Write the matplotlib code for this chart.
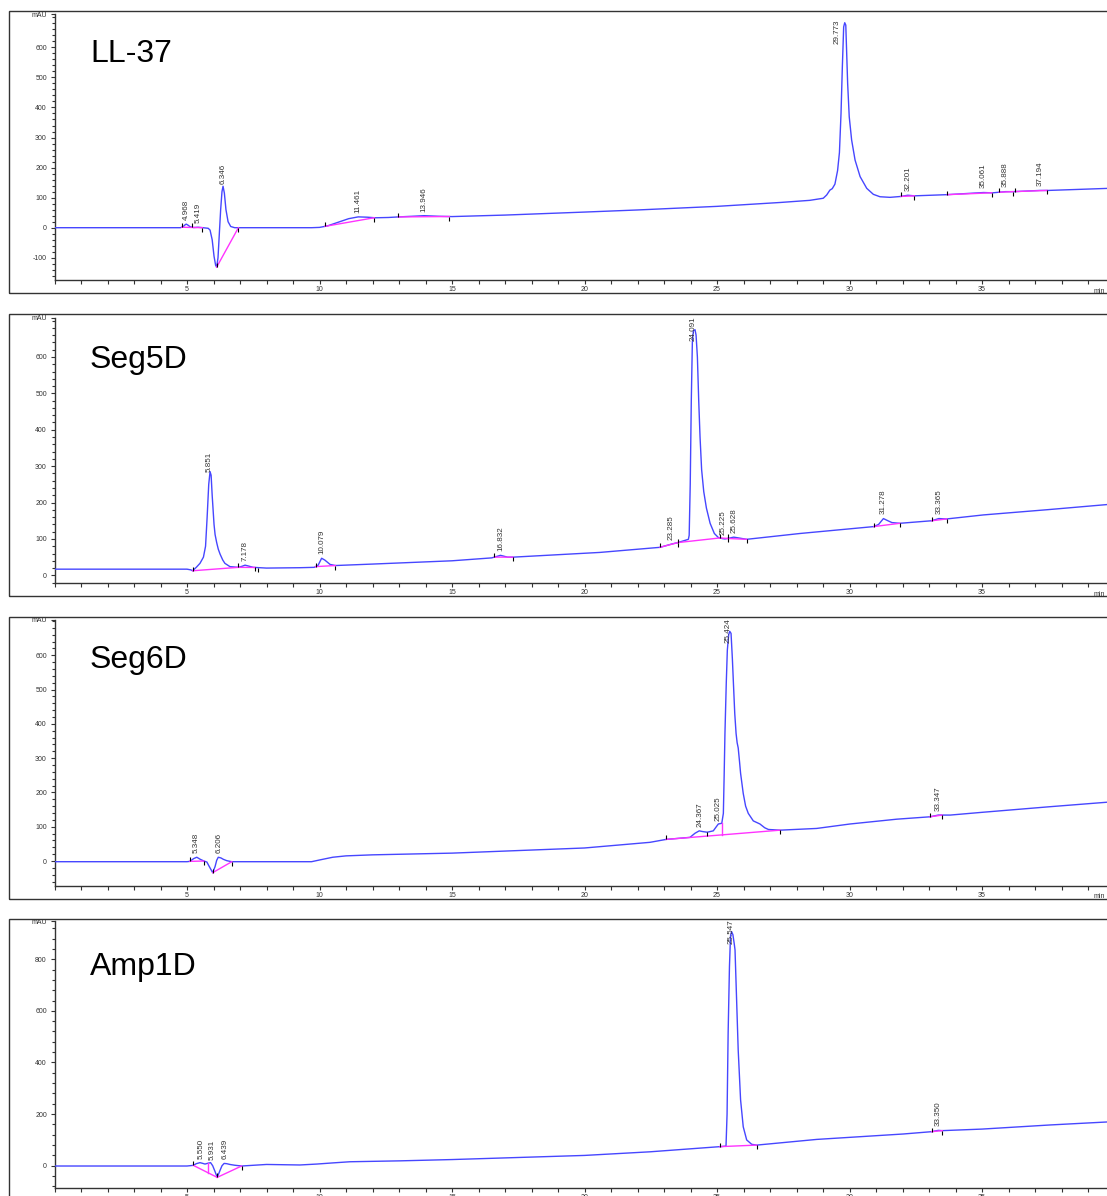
import numpy as np
import matplotlib
matplotlib.use('Agg')
import matplotlib.pyplot as plt
from matplotlib.patches import Rectangle
from matplotlib.ticker import MultipleLocator, FixedLocator, FixedFormatter

plt.rcParams['font.family'] = ['Liberation Sans', 'DejaVu Sans']

# ---------------- data ----------------
names = ['LL-37', 'Seg5D', 'Seg6D', 'Amp1D']

# LL-37
ll37_t = [0, 4.75, 4.85, 4.92, 4.97, 5.03, 5.12, 5.25, 5.42, 5.6, 5.8, 5.87, 5.95, 6.02, 6.08,
          6.12, 6.17, 6.22, 6.27, 6.32, 6.36, 6.41, 6.47, 6.55, 6.65, 6.8, 9.7, 10.0, 10.3, 10.7,
          11.1, 11.46, 11.8, 12.1, 12.6, 13.0, 13.5, 13.95, 14.5, 15.0, 17.0, 20.0, 22.0, 25.0,
          27.4, 28.5, 29.01, 29.14, 29.26, 29.35, 29.45, 29.55, 29.62, 29.68, 29.73, 29.78, 29.82,
          29.86, 29.89, 29.93, 29.99, 30.08, 30.21, 30.40, 30.65, 30.90, 31.15, 31.53, 31.94,
          32.2, 32.45, 33.7, 35.06, 35.4, 35.89, 36.2, 37.19, 37.5, 38.5, 39.8]
ll37_v = [0, 0, 3, 9, 12, 9, 3, 0.5, 1.5, 0, -2, -8, -40, -95, -125,
          -131, -100, -20, 60, 120, 138, 115, 60, 20, 4, 0, 0, 1, 6, 18,
          30, 36, 35, 33, 34, 36, 38, 40, 38, 37, 42, 52, 59, 71,
          84, 91, 98, 109, 125, 130, 145, 190, 250, 380, 535, 668, 682,
          674, 591, 480, 369, 292, 225, 170, 131, 111, 103, 101, 104,
          108, 106, 110, 117, 116, 120, 120, 124, 124, 127, 131]
ll37_baselines = [(4.80, 5.58), (6.12, 6.94), (10.21, 12.07), (12.97, 14.9), (31.94, 32.45),
                  (33.69, 35.37), (35.65, 36.18), (36.26, 37.46)]
ll37_drops = []
ll37_starts = [4.80, 5.20, 6.12, 10.21, 12.97, 31.94, 33.69, 35.65, 36.26]
ll37_ends = [5.58, 6.94, 12.07, 14.9, 32.45, 35.37, 36.18, 37.46]
ll37_labels = ['4.968', '5.419', '6.346', '11.461', '13.946', '29.773', '32.201', '35.061',
               '35.888', '37.194']

# Seg5D
seg5_t = [0, 5.0, 5.15, 5.21, 5.35, 5.49, 5.62, 5.7, 5.76, 5.82, 5.87, 5.91, 5.95, 6.02, 6.06,
          6.12, 6.18, 6.25, 6.35, 6.43, 6.62, 6.94, 7.08, 7.19, 7.3, 7.5, 8.0, 9.26, 9.8, 9.95,
          10.08, 10.2, 10.4, 10.6, 12.0, 15.0, 16.5, 16.83, 17.1, 17.3, 20.58, 22.85, 23.29,
          23.52, 23.92, 23.95, 23.99, 24.03, 24.07, 24.11, 24.17, 24.21, 24.26, 24.31, 24.36,
          24.42, 24.5, 24.6, 24.74, 24.9, 25.05, 25.2, 25.3, 25.45, 25.63, 25.8, 26.12, 28.13,
          30.92, 31.1, 31.28, 31.45, 31.6, 31.9, 33.1, 33.37, 33.67, 35.05, 37.57, 39.8]
seg5_v = [17, 17, 15, 12.6, 22, 33, 50, 80, 160, 250, 285, 275, 220, 140, 112,
          90, 72, 58, 42, 33, 24, 22, 25, 28, 26, 22, 20, 21, 22, 28,
          47, 42, 30, 27, 31, 40, 48, 55, 50, 50, 63, 77, 86,
          90, 99, 110, 250, 480, 640, 672, 675, 660, 600, 480, 380,
          290, 230, 185, 143, 115, 104, 101, 100, 102, 105, 103, 99, 115,
          134, 140, 156, 150, 145, 143, 150, 156, 155, 166, 181, 195]
seg5_baselines = [(5.21, 6.94), (6.94, 7.57), (9.85, 10.6), (16.6, 17.3), (22.85, 23.52),
                  (23.52, 25.11), (25.11, 25.4), (25.4, 26.12), (30.92, 31.9), (33.1, 33.67)]
seg5_drops = []
seg5_starts = [5.21, 6.94, 9.85, 16.6, 22.85, 23.52, 25.11, 25.4, 30.92, 33.1]
seg5_ends = [7.57, 7.68, 10.6, 17.3, 23.52, 25.4, 26.12, 31.9, 33.67]
seg5_labels = ['5.851', '7.178', '10.079', '16.832', '23.285', '24.091', '25.225', '25.628',
               '31.278', '33.365']

# Seg6D
seg6_t = [0, 5.0, 5.11, 5.25, 5.37, 5.5, 5.64, 5.75, 5.84, 5.97, 6.06, 6.12, 6.18, 6.28, 6.37,
          6.5, 6.69, 9.7, 10.0, 10.5, 11.0, 12.0, 15.0, 20.0, 22.47, 23.08, 23.98, 24.17, 24.33,
          24.45, 24.63, 24.86, 25.05, 25.18, 25.24, 25.27, 25.3, 25.35, 25.39, 25.44, 25.48,
          25.53, 25.58, 25.62, 25.67, 25.72, 25.76, 25.8, 25.85, 25.89, 25.99, 26.08, 26.18,
          26.37, 26.62, 26.8, 26.94, 27.38, 28.76, 30.02, 31.28, 31.78, 33.04, 33.35, 33.8,
          35.0, 37.5, 39.8]
seg6_v = [-2, -2, -1, 7, 11, 5, 0, -3, -16, -34, -16, 2, 11, 9, 5,
          1, -2, -2, 3, 11, 15, 18, 23, 38, 54.5, 63, 69, 81, 88,
          86, 84, 88, 108, 110, 139, 250, 372, 520, 615, 660, 670,
          664, 590, 518, 430, 372, 345, 330, 290, 256, 197, 160, 139,
          117, 108, 97, 92, 90, 95, 108, 118, 122, 129, 134, 134,
          142, 158, 172]
seg6_baselines = [(5.11, 5.64), (5.97, 6.69), (23.08, 27.38), (33.04, 33.5)]
seg6_drops = [25.18]
seg6_starts = [5.11, 5.97, 23.08, 33.04]
seg6_ends = [5.64, 6.69, 24.63, 27.38, 33.5]
seg6_labels = ['5.348', '6.206', '24.367', '25.025', '25.424', '33.347']

# Amp1D
amp1_t = [0, 5.0, 5.24, 5.35, 5.49, 5.6, 5.68, 5.8, 5.89, 5.97, 6.06, 6.14, 6.2, 6.25, 6.32,
          6.4, 6.5, 6.62, 6.8, 7.06, 8.0, 9.26, 9.9, 10.5, 11.15, 13.04, 15.0, 20.0, 22.47,
          25.11, 25.34, 25.38, 25.42, 25.47, 25.51, 25.55, 25.6, 25.65, 25.68, 25.74, 25.8,
          25.89, 25.99, 26.12, 26.31, 26.5, 28.76, 32.03, 33.1, 33.35, 33.5, 35.0, 37.57, 39.8]
amp1_v = [-1, -1, 1.5, 8, 12, 9, 6.6, 10, 12, 0, -23, -45, -30, -17, 0,
          9, 8, 5, 2, -1, 5, 3, 6.6, 11, 15.5, 19, 24, 40, 54,
          74, 76, 200, 513, 771, 890, 907, 895, 860, 836, 642, 448,
          255, 151, 100, 83, 80, 102, 123, 132, 137, 136, 142, 158, 170]
amp1_baselines = [(5.24, 6.14), (6.14, 7.06), (25.11, 26.5), (33.1, 33.5)]
amp1_drops = [5.81]
amp1_starts = [5.24, 6.14, 25.11, 33.1]
amp1_ends = [7.06, 26.5, 33.5]
amp1_labels = ['5.550', '5.931', '6.439', '25.547', '33.350']

y_limits = [(-174, 711), (-21, 707), (-72, 703), (-85, 946)]
y_major = [[-100, 0, 100, 200, 300, 400, 500, 600],
           [0, 100, 200, 300, 400, 500, 600],
           [0, 100, 200, 300, 400, 500, 600],
           [0, 200, 400, 600, 800]]
y_minor_step = [20, 20, 20, 40]
x_major = [5, 10, 15, 20, 25, 30, 35]

traces = [(ll37_t, ll37_v, ll37_baselines, ll37_drops, ll37_starts, ll37_ends, ll37_labels),
          (seg5_t, seg5_v, seg5_baselines, seg5_drops, seg5_starts, seg5_ends, seg5_labels),
          (seg6_t, seg6_v, seg6_baselines, seg6_drops, seg6_starts, seg6_ends, seg6_labels),
          (amp1_t, amp1_v, amp1_baselines, amp1_drops, amp1_starts, amp1_ends, amp1_labels)]

# ---------------- layout / style ----------------
W, H = 1107, 1196
fig = plt.figure(figsize=(W / 100, H / 100), dpi=100)

ax_left, ax_right = 54.5, 1107
ax_tops = [14, 318, 620, 921.5]
ax_bottoms = [280, 583, 885.7, 1187.7]
fr_left = 9.3
fr_tops = [11, 314, 617, 919]
fr_bottoms = [293, 596, 899, 1230]
title_base = [62, 368, 668, 975]

BLUE = '#4646ff'
MAG = '#ff33ff'
DARK = '#333333'
xmax = (ax_right - ax_left) / 26.5

label_nudge = {(0, '29.773'): (-6, -8)}

for i, (name, tr) in enumerate(zip(names, traces)):
    t, v, bls, drops, starts, ends, labels = tr
    t = np.asarray(t, float)
    v = np.asarray(v, float)

    # outer frame
    fig.add_artist(Rectangle((fr_left / W, 1 - fr_bottoms[i] / H), 1.2,
                             (fr_bottoms[i] - fr_tops[i]) / H, transform=fig.transFigure,
                             fill=False, ec=DARK, lw=1.0))

    ax = fig.add_axes([ax_left / W, 1 - ax_bottoms[i] / H, (ax_right - ax_left) / W,
                       (ax_bottoms[i] - ax_tops[i]) / H])
    ax.set_xlim(0, xmax)
    ax.set_ylim(*y_limits[i])
    for s in ['top', 'right']:
        ax.spines[s].set_visible(False)
    for s in ['left', 'bottom']:
        ax.spines[s].set_color(DARK)
        ax.spines[s].set_linewidth(1.0)
    ax.patch.set_alpha(0)

    ticks = list(y_major[i]) + [y_limits[i][1]]
    tlabels = [str(k) for k in y_major[i]] + ['mAU']
    ax.yaxis.set_major_locator(FixedLocator(ticks))
    ax.yaxis.set_major_formatter(FixedFormatter(tlabels))
    ax.yaxis.set_minor_locator(MultipleLocator(y_minor_step[i]))
    ax.xaxis.set_major_locator(FixedLocator(x_major))
    ax.xaxis.set_minor_locator(MultipleLocator(1))
    ax.tick_params(axis='y', which='major', direction='out', length=3, width=0.8,
                   color=DARK, labelsize=5, labelcolor=DARK, pad=2.5)
    ax.tick_params(axis='y', which='minor', direction='out', length=2, width=0.8, color=DARK)
    ax.tick_params(axis='x', which='major', direction='out', length=3, width=0.8,
                   color=DARK, labelsize=5, labelcolor=DARK, pad=1.5)
    ax.tick_params(axis='x', which='minor', direction='out', length=2.6, width=0.8, color=DARK)
    if i < 3:
        ax.annotate('min', xy=((1105 - ax_left) / (ax_right - ax_left), 0),
                    xycoords='axes fraction', xytext=(0, -5.5), textcoords='offset points',
                    ha='right', va='top', fontsize=5, color=DARK, annotation_clip=False)

    # trace
    ax.plot(t, v, color=BLUE, lw=1.0, zorder=3)

    # integration baselines
    for a, b in bls:
        ax.plot([a, b], [np.interp(a, t, v), np.interp(b, t, v)], color=MAG, lw=1.0, zorder=4)
    for d in drops:
        for a, b in bls:
            if a <= d <= b:
                ya, yb = np.interp(a, t, v), np.interp(b, t, v)
                ybl = ya + (yb - ya) * (d - a) / (b - a)
                ax.plot([d, d], [np.interp(d, t, v), ybl], color=MAG, lw=1.0, zorder=4)
                break
    ax.plot(starts, np.interp(starts, t, v), ls='none', marker=2, ms=3.2, mew=0.8,
            color='black', zorder=5)
    ax.plot(ends, np.interp(ends, t, v), ls='none', marker=3, ms=3.2, mew=0.8,
            color='black', zorder=5)

    # peak labels
    top_px = ax.transAxes.transform((0, 1))[1]
    for lab in labels:
        rt = float(lab)
        yv = np.interp(rt, t, v)
        px = ax.transData.transform((rt, yv))
        tlen = 3.06 * 8.0
        dx, dy = label_nudge.get((i, lab), (0, 0))
        if px[1] + 4 + tlen > top_px:
            ax.annotate(lab, xy=(rt, 1.0), xycoords=('data', 'axes fraction'),
                        xytext=(dx * 0.72, 1.5 + dy * 0.72), textcoords='offset points',
                        rotation=90, ha='center', va='top', fontsize=5.8, color=DARK,
                        zorder=6, annotation_clip=False)
        else:
            ax.annotate(lab, xy=(rt, yv), xytext=(0, 3), textcoords='offset points',
                        rotation=90, ha='center', va='bottom', fontsize=5.8, color=DARK,
                        zorder=6)

    fig.text(90 / W, 1 - title_base[i] / H, name, fontsize=23, ha='left', va='baseline',
             color='black')

fig.savefig('out.png', dpi=100)
